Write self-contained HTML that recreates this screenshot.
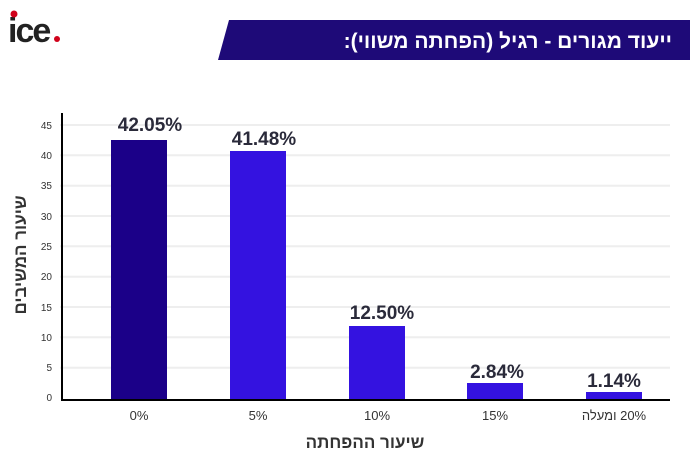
<!DOCTYPE html>
<html><head><meta charset="utf-8"><style>
body{margin:0;width:690px;height:467px;background:#fff;overflow:hidden;font-family:"Liberation Sans","Noto Sans CJK SC",sans-serif;}
</style></head><body>
<svg width="690" height="467" xmlns="http://www.w3.org/2000/svg" style="position:absolute;left:0;top:0">
<text x="8" y="42" font-family="Liberation Sans, sans-serif" font-weight="bold" font-size="34" fill="#222" letter-spacing="-2">ice</text>
<circle cx="57" cy="39" r="3" fill="#d0021b"/>
<circle cx="14" cy="14" r="3.5" fill="#d0021b"/>
<polygon points="229,20 690,20 690,60 218,60" fill="#1e0a78"/>
<text x="672" y="48" text-anchor="start" direction="rtl" font-family="Liberation Sans, DejaVu Sans, sans-serif" font-weight="bold" font-size="21" fill="#fff">ייעוד מגורים - רגיל (הפחתה משווי):</text>
<g stroke="#eee" stroke-width="2">
<line x1="60" y1="125" x2="670" y2="125"/><line x1="60" y1="155.3" x2="670" y2="155.3"/>
<line x1="60" y1="185.7" x2="670" y2="185.7"/><line x1="60" y1="216" x2="670" y2="216"/>
<line x1="60" y1="246.3" x2="670" y2="246.3"/><line x1="60" y1="276.7" x2="670" y2="276.7"/>
<line x1="60" y1="307" x2="670" y2="307"/><line x1="60" y1="337.3" x2="670" y2="337.3"/>
<line x1="60" y1="367.7" x2="670" y2="367.7"/>
</g>
<g font-size="10" fill="#333" text-anchor="end">
<text x="52" y="129">45</text><text x="52" y="159">40</text><text x="52" y="189">35</text>
<text x="52" y="220">30</text><text x="52" y="250">25</text><text x="52" y="280">20</text>
<text x="52" y="311">15</text><text x="52" y="341">10</text><text x="52" y="371">5</text><text x="52" y="401">0</text>
</g>
<rect x="111" y="140" width="56" height="259" fill="#1b0088"/>
<rect x="230" y="151" width="56" height="248" fill="#3412e0"/>
<rect x="349" y="326" width="56" height="73" fill="#3412e0"/>
<rect x="467" y="383" width="56" height="16" fill="#3412e0"/>
<rect x="586" y="392" width="56" height="7" fill="#3412e0"/>
<line x1="62" y1="113" x2="62" y2="400" stroke="#000" stroke-width="2"/>
<line x1="61" y1="400" x2="670" y2="400" stroke="#000" stroke-width="2"/>
<g font-size="19" font-weight="bold" fill="#2a2a3a" text-anchor="middle">
<text x="150" y="131">42.05%</text><text x="264" y="145">41.48%</text>
<text x="382" y="319">12.50%</text><text x="497" y="378">2.84%</text><text x="614" y="387">1.14%</text>
</g>
<g font-size="13" fill="#333" text-anchor="middle">
<text x="139" y="420">0%</text><text x="258" y="420">5%</text><text x="377" y="420">10%</text>
<text x="495" y="420">15%</text><text x="614" y="420" direction="rtl">20% ומעלה</text>
</g>
<text x="365" y="448" text-anchor="middle" font-size="17" font-weight="bold" fill="#333" direction="rtl">שיעור ההפחתה</text>
<text transform="translate(26,255) rotate(-90)" text-anchor="middle" font-size="17" font-weight="bold" fill="#333" direction="rtl">שיעור המשיבים</text>
</svg>
</body></html>
